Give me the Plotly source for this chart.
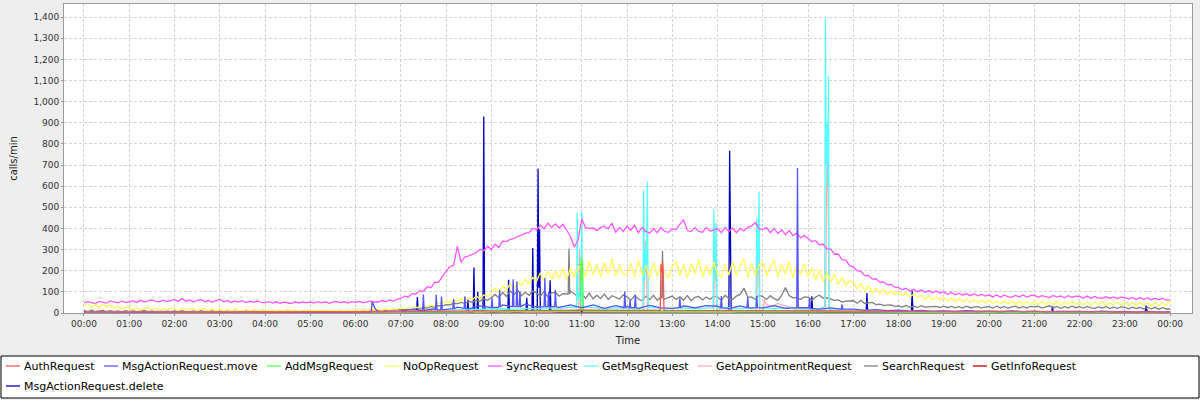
import pandas as pd
import plotly.graph_objects as go

# ---------------- DATA ----------------
series_names = ["AuthRequest", "MsgActionRequest.move", "AddMsgRequest", "NoOpRequest",
                "SyncRequest", "GetMsgRequest", "GetAppointmentRequest", "SearchRequest",
                "GetInfoRequest", "MsgActionRequest.delete"]

# 5-minute samples, 00:00 .. 24:00 (289 values)
sync_request = [
    48, 54, 49, 45, 55, 50, 47, 57, 51, 48, 56, 50,
    52, 58, 50, 60, 53, 56, 62, 55, 54, 61, 54, 59,
    64, 55, 68, 56, 62, 53, 60, 63, 54, 59, 52, 58,
    65, 53, 59, 50, 57, 52, 58, 49, 56, 51, 57, 50,
    48, 54, 47, 53, 46, 52, 49, 45, 53, 47, 52, 48,
    52, 47, 54, 48, 53, 46, 52, 55, 48, 53, 47, 54,
    50, 55, 48, 53, 57, 51, 52, 59, 54, 62, 56, 65,
    70, 80, 76, 92, 90, 106, 102, 124, 120, 146, 145, 172,
    196, 220, 225, 315, 240, 265, 270, 278, 285, 302, 295, 316,
    300, 325, 310, 340, 338, 348, 352, 362, 368, 378, 380, 400,
    395, 415, 398, 425, 405, 422, 402, 420, 390, 362, 312, 345,
    445, 405, 400, 402, 390, 405, 410, 398, 425, 382, 405, 386,
    410, 392, 415, 380, 405, 386, 378, 400, 380, 405, 386, 382,
    398, 395, 420, 440, 390, 385, 405, 386, 382, 405, 388, 392,
    400, 380, 405, 386, 402, 380, 400, 388, 405, 412, 428, 398,
    396, 404, 380, 400, 376, 394, 370, 390, 366, 378, 356, 366,
    352, 338, 342, 322, 326, 302, 302, 278, 279, 252, 250, 224,
    218, 200, 197, 177, 178, 160, 162, 146, 147, 134, 135, 122,
    120, 110, 117, 104, 112, 101, 109, 98, 106, 96, 104, 94,
    100, 89, 97, 86, 94, 84, 92, 82, 91, 81, 89, 80,
    86, 76, 85, 75, 84, 77, 74, 83, 76, 85, 75, 82,
    84, 74, 82, 76, 73, 83, 75, 81, 72, 82, 74, 80,
    79, 71, 80, 70, 78, 72, 69, 77, 70, 76, 68, 75,
    73, 66, 74, 64, 72, 65, 71, 63, 70, 62, 69, 61,
    62,
]

noop_request = [
    32, 45, 28, 42, 25, 43, 30, 38, 24, 33, 20, 29,
    26, 15, 24, 13, 22, 27, 15, 23, 12, 21, 14, 24,
    20, 12, 22, 11, 19, 21, 10, 18, 20, 11, 19, 12,
    18, 10, 17, 9, 19, 11, 9, 17, 10, 18, 9, 16,
    15, 10, 14, 9, 13, 10, 17, 9, 16, 8, 15, 9,
    14, 9, 13, 10, 14, 9, 13, 10, 14, 9, 13, 10,
    16, 10, 17, 11, 18, 12, 19, 13, 20, 14, 21, 18,
    24, 20, 25, 24, 28, 26, 32, 30, 38, 34, 47, 46,
    56, 50, 60, 56, 66, 58, 72, 64, 80, 68, 85, 80,
    90, 118, 95, 128, 108, 138, 118, 148, 128, 160, 138, 168,
    150, 190, 150, 198, 158, 200, 165, 210, 160, 212, 170, 215,
    225, 170, 245, 180, 230, 170, 240, 185, 255, 175, 230, 180,
    185, 235, 170, 250, 180, 225, 165, 240, 175, 230, 185, 170,
    220, 245, 175, 230, 165, 235, 185, 255, 170, 225, 180, 240,
    185, 170, 230, 180, 245, 175, 225, 255, 170, 235, 180, 225,
    240, 175, 220, 250, 170, 230, 185, 245, 165, 225, 180, 235,
    170, 215, 155, 205, 150, 190, 145, 185, 135, 170, 128, 155,
    145, 112, 140, 104, 128, 96, 118, 92, 112, 88, 104, 86,
    100, 82, 96, 76, 90, 72, 84, 66, 80, 64, 77, 62,
    74, 58, 70, 55, 68, 52, 65, 51, 63, 50, 61, 48,
    60, 44, 58, 43, 57, 42, 56, 40, 55, 41, 54, 39,
    55, 40, 56, 38, 53, 41, 55, 37, 52, 40, 54, 39,
    52, 38, 54, 37, 51, 39, 53, 36, 50, 38, 52, 37,
    51, 36, 49, 35, 50, 37, 48, 34, 49, 36, 47, 35,
    58,
]

search_request = [
    12, 7, 13, 6, 10, 12, 7, 11, 6, 10, 7, 11,
    7, 11, 6, 10, 12, 7, 10, 6, 11, 7, 10, 6,
    10, 6, 11, 7, 5, 10, 7, 11, 6, 9, 10, 5,
    9, 5, 10, 6, 9, 5, 8, 10, 5, 9, 6, 5,
    8, 5, 9, 4, 8, 5, 9, 5, 8, 4, 7, 8,
    5, 8, 4, 9, 5, 8, 4, 7, 9, 5, 8, 5,
    8, 7, 9, 8, 10, 9, 11, 12, 13, 14, 15, 16,
    18, 16, 20, 18, 24, 20, 27, 23, 30, 28, 35, 33,
    40, 38, 45, 44, 50, 46, 56, 50, 60, 56, 66, 60,
    72, 88, 72, 98, 78, 104, 86, 108, 82, 98, 84, 104,
    94, 80, 102, 76, 94, 98, 80, 92, 90, 104, 92, 78,
    88, 70, 94, 66, 84, 68, 90, 64, 82, 72, 66, 86,
    76, 60, 82, 66, 58, 80, 64, 84, 60, 76, 66, 72,
    80, 64, 76, 60, 82, 58, 74, 78, 62, 76, 64, 80,
    74, 60, 84, 68, 64, 80, 88, 118, 74, 76, 64, 84,
    78, 64, 82, 68, 60, 84, 120, 82, 72, 74, 64, 76,
    74, 60, 76, 84, 70, 72, 66, 60, 62, 52, 56, 58,
    58, 46, 60, 45, 48, 50, 40, 42, 36, 37, 38, 31,
    34, 28, 36, 27, 33, 26, 35, 28, 29, 30, 31, 26,
    32, 25, 31, 24, 30, 23, 32, 25, 28, 30, 23, 29,
    30, 23, 32, 24, 31, 22, 29, 32, 23, 30, 24, 31,
    29, 32, 23, 30, 34, 24, 31, 22, 30, 24, 32, 25,
    30, 23, 31, 24, 22, 29, 23, 30, 21, 28, 22, 29,
    27, 20, 28, 21, 27, 19, 26, 20, 27, 18, 25, 19,
    20,
]

# 15-minute samples, 00:00 .. 24:00 (97 values)
msg_move = [
    5, 4, 6, 5, 4, 5, 3, 4, 5, 4, 3, 4, 4, 3, 5, 4, 3, 4, 3, 4, 3, 3, 4, 3,
    4, 5, 6, 8,
    10, 16, 11, 20,
    18, 28, 20, 34,
    24, 38, 26, 42,
    28, 44, 27, 38,
    24, 38, 22, 35,
    32, 22, 36, 24,
    22, 34, 24, 35,
    32, 21, 34, 23,
    24, 35, 22, 33,
    26, 18, 24, 16,
    18, 12, 16, 11,
    13, 9, 12, 8,
    10, 7, 11, 7,
    9, 6, 10, 6,
    9, 5, 8, 7,
    8, 5, 9, 5,
    7, 4, 8, 4,
    5,
]

get_msg_request = [
    5, 4, 6, 4, 5, 4, 3, 5, 4, 3, 4, 3, 3, 4, 3, 3, 4, 3, 3, 2, 3, 3, 2, 3,
    3, 4, 4, 5,
    6, 8, 10, 12,
    14, 15, 18, 16,
    18, 20, 17, 22,
    20, 24, 22, 28,
    22, 25, 20, 24,
    23, 20, 25, 22,
    21, 24, 20, 23,
    22, 25, 21, 24,
    23, 20, 24, 22,
    20, 18, 16, 15,
    14, 12, 13, 11,
    10, 9, 11, 9,
    9, 8, 10, 8,
    8, 9, 7, 8,
    8, 7, 9, 7,
    7, 8, 6, 7,
    6, 7, 5, 6,
    5,
]

# 30-minute samples, 00:00 .. 24:00 (49 values)
auth_request = [5, 6, 4, 5, 4, 4, 3, 4, 3, 3,
                3, 4, 4, 5, 6, 8, 9, 10, 12, 11,
                13, 12, 14, 12, 13, 11, 12, 13, 11, 12,
                13, 11, 12, 10, 9, 8, 8, 7, 7, 6,
                7, 6, 6, 5, 6, 5, 5, 4,
                4]
add_msg_request = [4, 3, 4, 3, 4, 5, 5, 4, 4, 3,
                   3, 3, 3, 4, 4, 5, 6, 6, 7, 7,
                   8, 7, 8, 7, 7, 8, 7, 7, 8, 7,
                   7, 6, 7, 6, 5, 5, 4, 4, 4, 3,
                   4, 3, 3, 3, 3, 3, 3, 2,
                   2]
get_appointment_request = [3, 2, 2, 2, 2, 2, 1, 1, 1, 1,
                           1, 2, 2, 3, 4, 6, 7, 9, 10, 11,
                           12, 12, 13, 12, 12, 13, 12, 12, 13, 12,
                           13, 35, 15, 12, 9, 7, 6, 5, 5, 4,
                           4, 4, 3, 3, 3, 3, 3, 2,
                           2]
get_info_request = [3, 3, 2, 3, 2, 2, 2, 3, 2, 2,
                    2, 2, 3, 3, 4, 4, 5, 5, 6, 5,
                    6, 6, 5, 6, 6, 5, 6, 5, 6, 5,
                    6, 5, 5, 5, 4, 4, 4, 4, 3, 4,
                    3, 3, 3, 3, 3, 3, 3, 2,
                    2]
msg_delete = [2, 1, 2, 1, 1, 2, 1, 1, 1, 1,
              1, 1, 1, 2, 2, 3, 4, 5, 6, 5,
              7, 6, 6, 5, 6, 5, 6, 5, 6, 5,
              5, 6, 5, 4, 4, 3, 3, 3, 2, 3,
              2, 2, 2, 2, 2, 2, 1, 1,
              1]

# Individual one-minute readings (spikes and their neighbours)
delete_spike_t = ["07:21", "07:22", "07:23", "08:28", "08:29", "08:30", "08:36", "08:37", "08:38",
                  "08:41", "08:42", "08:43", "08:49", "08:50", "08:51", "08:52",
                  "09:22", "09:23", "09:24", "09:46", "09:47", "09:48", "09:54", "09:55", "09:56",
                  "10:01", "10:02", "10:03", "10:04", "10:05", "10:17", "10:18", "10:19",
                  "14:15", "14:16", "14:17", "14:18", "16:04", "16:05", "16:06",
                  "17:17", "17:18", "17:19", "18:17", "18:18", "18:19",
                  "21:23", "21:24", "21:25", "23:27", "23:28", "23:29"]
delete_spike_v = [3, 75, 3, 6, 63, 6, 6, 215, 8,
                  8, 100, 8, 10, 930, 40, 8,
                  8, 157, 8, 8, 72, 8, 8, 308, 10,
                  10, 682, 120, 395, 10, 8, 155, 8,
                  8, 768, 60, 8, 6, 79, 6,
                  5, 95, 5, 4, 105, 4,
                  3, 31, 3, 3, 35, 3]

move_spike_t = ["06:21", "06:22", "06:26", "06:30", "07:29", "07:30", "07:31", "07:46", "07:47", "07:48",
                "07:53", "07:54", "07:55", "08:09", "08:10", "08:11", "08:24", "08:25", "08:26",
                "09:00", "09:01", "09:02", "09:10", "09:11", "09:12", "09:28", "09:29", "09:30",
                "09:33", "09:34", "09:35", "09:37", "09:38", "09:39", "10:10", "10:11", "10:12",
                "10:15", "10:16", "10:17", "10:24", "10:25", "10:26",
                "11:56", "11:57", "11:58", "12:03", "12:04", "12:05", "12:10", "12:11", "12:12",
                "13:09", "13:10", "13:11", "14:04", "14:05", "14:06", "14:39", "14:40", "14:41",
                "14:51", "14:52", "14:53", "15:45", "15:46", "15:47", "16:01", "16:02", "16:03",
                "16:44", "16:45", "16:46"]
move_spike_v = [4, 55, 20, 6, 12, 87, 12, 15, 87, 15,
                15, 78, 15, 20, 66, 20, 22, 79, 22,
                25, 72, 25, 28, 110, 28, 30, 160, 30,
                30, 150, 30, 30, 102, 30, 30, 165, 30,
                30, 102, 30, 30, 110, 30,
                25, 102, 25, 25, 60, 25, 25, 87, 25,
                25, 70, 25, 25, 80, 25, 25, 75, 25,
                25, 79, 25, 25, 686, 25, 22, 72, 22,
                18, 40, 18]

getmsg_spike_t = ["10:53", "10:54", "10:55", "10:56", "10:58", "10:59", "11:00", "11:01",
                  "12:21", "12:22", "12:23", "12:24", "12:25", "12:26", "12:27", "12:28",
                  "13:54", "13:55", "13:56", "13:57", "13:58", "13:59",
                  "14:51", "14:52", "14:53", "14:54", "14:55", "14:56",
                  "16:22", "16:23", "16:24", "16:25", "16:26", "16:27", "16:28"]
getmsg_spike_v = [25, 475, 60, 100, 80, 60, 480, 25,
                  25, 583, 150, 300, 200, 250, 623, 25,
                  25, 488, 200, 150, 426, 25,
                  25, 450, 200, 300, 575, 25,
                  30, 1395, 700, 900, 600, 1122, 30]

appt_spike_t = ["10:56", "10:57", "10:58", "10:59", "12:22", "12:24", "12:25", "12:27",
                "13:55", "13:56", "13:57", "13:59", "14:52", "14:53", "14:54", "14:56",
                "15:01", "15:02", "15:05", "15:12", "15:20", "15:28", "15:38", "15:45",
                "16:23", "16:25", "16:26", "16:28"]
appt_spike_v = [12, 300, 200, 12, 12, 340, 280, 12,
                12, 350, 300, 12, 12, 330, 280, 12,
                13, 65, 40, 30, 45, 35, 25, 14,
                12, 790, 720, 12]

addmsg_spike_t = ["10:58", "10:59", "11:00", "11:01", "11:02"]
addmsg_spike_v = [7, 265, 150, 250, 7]

auth_spike_t = ["12:44", "12:45", "12:46", "12:47", "12:48", "12:49"]
auth_spike_v = [12, 230, 190, 240, 200, 12]

search_spike_t = ["10:42", "10:43", "10:44", "12:46", "12:47", "12:48"]
search_spike_v = [90, 305, 90, 70, 295, 70]

empty_t, empty_v = [], []

series_colors = ["#FF5555", "#5555FF", "#55FF55", "#FFFF55", "#FF55FF", "#55FFFF",
                 "#FFAFAF", "#808080", "#C00000", "#0000C0"]

# ---------------- BUILD ----------------
DAY = pd.Timestamp("2024-01-01")


def hm(s):
    h, m = s.split(":")
    return DAY + pd.Timedelta(hours=int(h), minutes=int(m))


def build(base_vals, step, spk_t, spk_v):
    pts = {DAY + pd.Timedelta(minutes=step * i): v for i, v in enumerate(base_vals)}
    for t, v in zip(spk_t, spk_v):
        pts[hm(t)] = v
    ts = sorted(pts)
    return ts, [pts[t] for t in ts]


series_data = [
    build(auth_request, 30, auth_spike_t, auth_spike_v),
    build(msg_move, 15, move_spike_t, move_spike_v),
    build(add_msg_request, 30, addmsg_spike_t, addmsg_spike_v),
    build(noop_request, 5, empty_t, empty_v),
    build(sync_request, 5, empty_t, empty_v),
    build(get_msg_request, 15, getmsg_spike_t, getmsg_spike_v),
    build(get_appointment_request, 30, appt_spike_t, appt_spike_v),
    build(search_request, 5, search_spike_t, search_spike_v),
    build(get_info_request, 30, empty_t, empty_v),
    build(msg_delete, 30, delete_spike_t, delete_spike_v),
]

fig = go.Figure()
# JFreeChart renders series in reverse order (first series on top)
for i in reversed(range(len(series_names))):
    ts, vs = series_data[i]
    fig.add_trace(go.Scatter(x=ts, y=vs, mode="lines", name=series_names[i],
                             line=dict(color=series_colors[i], width=1.3),
                             showlegend=False, hoverinfo="skip"))

# ---------------- LAYOUT ----------------
W, H = 1200, 400
ML, MR, MT, MB = 64, 8, 4, 87
PW, PH = W - ML - MR, H - MT - MB


def px(x):
    return (x - ML) / PW


def py(y):
    return (H - MB - y) / PH


grid = dict(showgrid=True, gridcolor="#D4D4D4", griddash="3px,2px", gridwidth=1,
            showline=True, linecolor="#9A9A9A", linewidth=1, mirror=True,
            ticks="outside", ticklen=2, tickcolor="#9A9A9A", zeroline=False,
            tickfont=dict(family="DejaVu Sans", size=9, color="#333333"))

fig.update_layout(
    width=W, height=H,
    margin=dict(l=ML, r=MR, t=MT, b=MB),
    paper_bgcolor="#EEEEEE", plot_bgcolor="#FFFFFF",
    showlegend=False,
    font=dict(family="DejaVu Sans", size=10, color="#222222"),
    xaxis=dict(type="date",
               range=[DAY - pd.Timedelta(minutes=26.5), DAY + pd.Timedelta(hours=24, minutes=29)],
               tickformat="%H:%M", dtick=3600000, tick0=DAY,
               title=dict(text="Time", font=dict(family="DejaVu Sans", size=10, color="#222222"),
                          standoff=9),
               automargin=False, **grid),
    yaxis=dict(range=[0, 1462], dtick=100, tickformat=",d",
               title=dict(text="calls/min", font=dict(family="DejaVu Sans", size=10, color="#222222"),
                          standoff=13),
               automargin=False, **grid),
)

# Legend (JFreeChart style box below the plot)
shapes = [dict(type="rect", xref="paper", yref="paper",
               x0=px(1), x1=px(1199), y0=py(398), y1=py(356),
               line=dict(color="#000000", width=1), fillcolor="#FFFFFF", layer="below")]
annotations = []
legend_pos = [(6, 366), (104, 366), (267, 366), (385, 366), (488, 366),
              (584, 366), (698, 366), (864, 366), (973, 366), (6, 386)]
for i, (lx, ly) in enumerate(legend_pos):
    shapes.append(dict(type="line", xref="paper", yref="paper",
                       x0=px(lx), x1=px(lx + 14), y0=py(ly), y1=py(ly),
                       line=dict(color=series_colors[i], width=1.3)))
    annotations.append(dict(xref="paper", yref="paper", x=px(lx + 16), y=py(ly),
                            xanchor="left", yanchor="middle", showarrow=False,
                            text=series_names[i],
                            font=dict(family="DejaVu Sans", size=11, color="#000000")))
fig.update_layout(shapes=shapes, annotations=annotations)

fig.write_html("out.html", config={"displayModeBar": False, "staticPlot": True},
               post_script="document.body.style.margin='0';document.body.style.overflow='hidden';")
